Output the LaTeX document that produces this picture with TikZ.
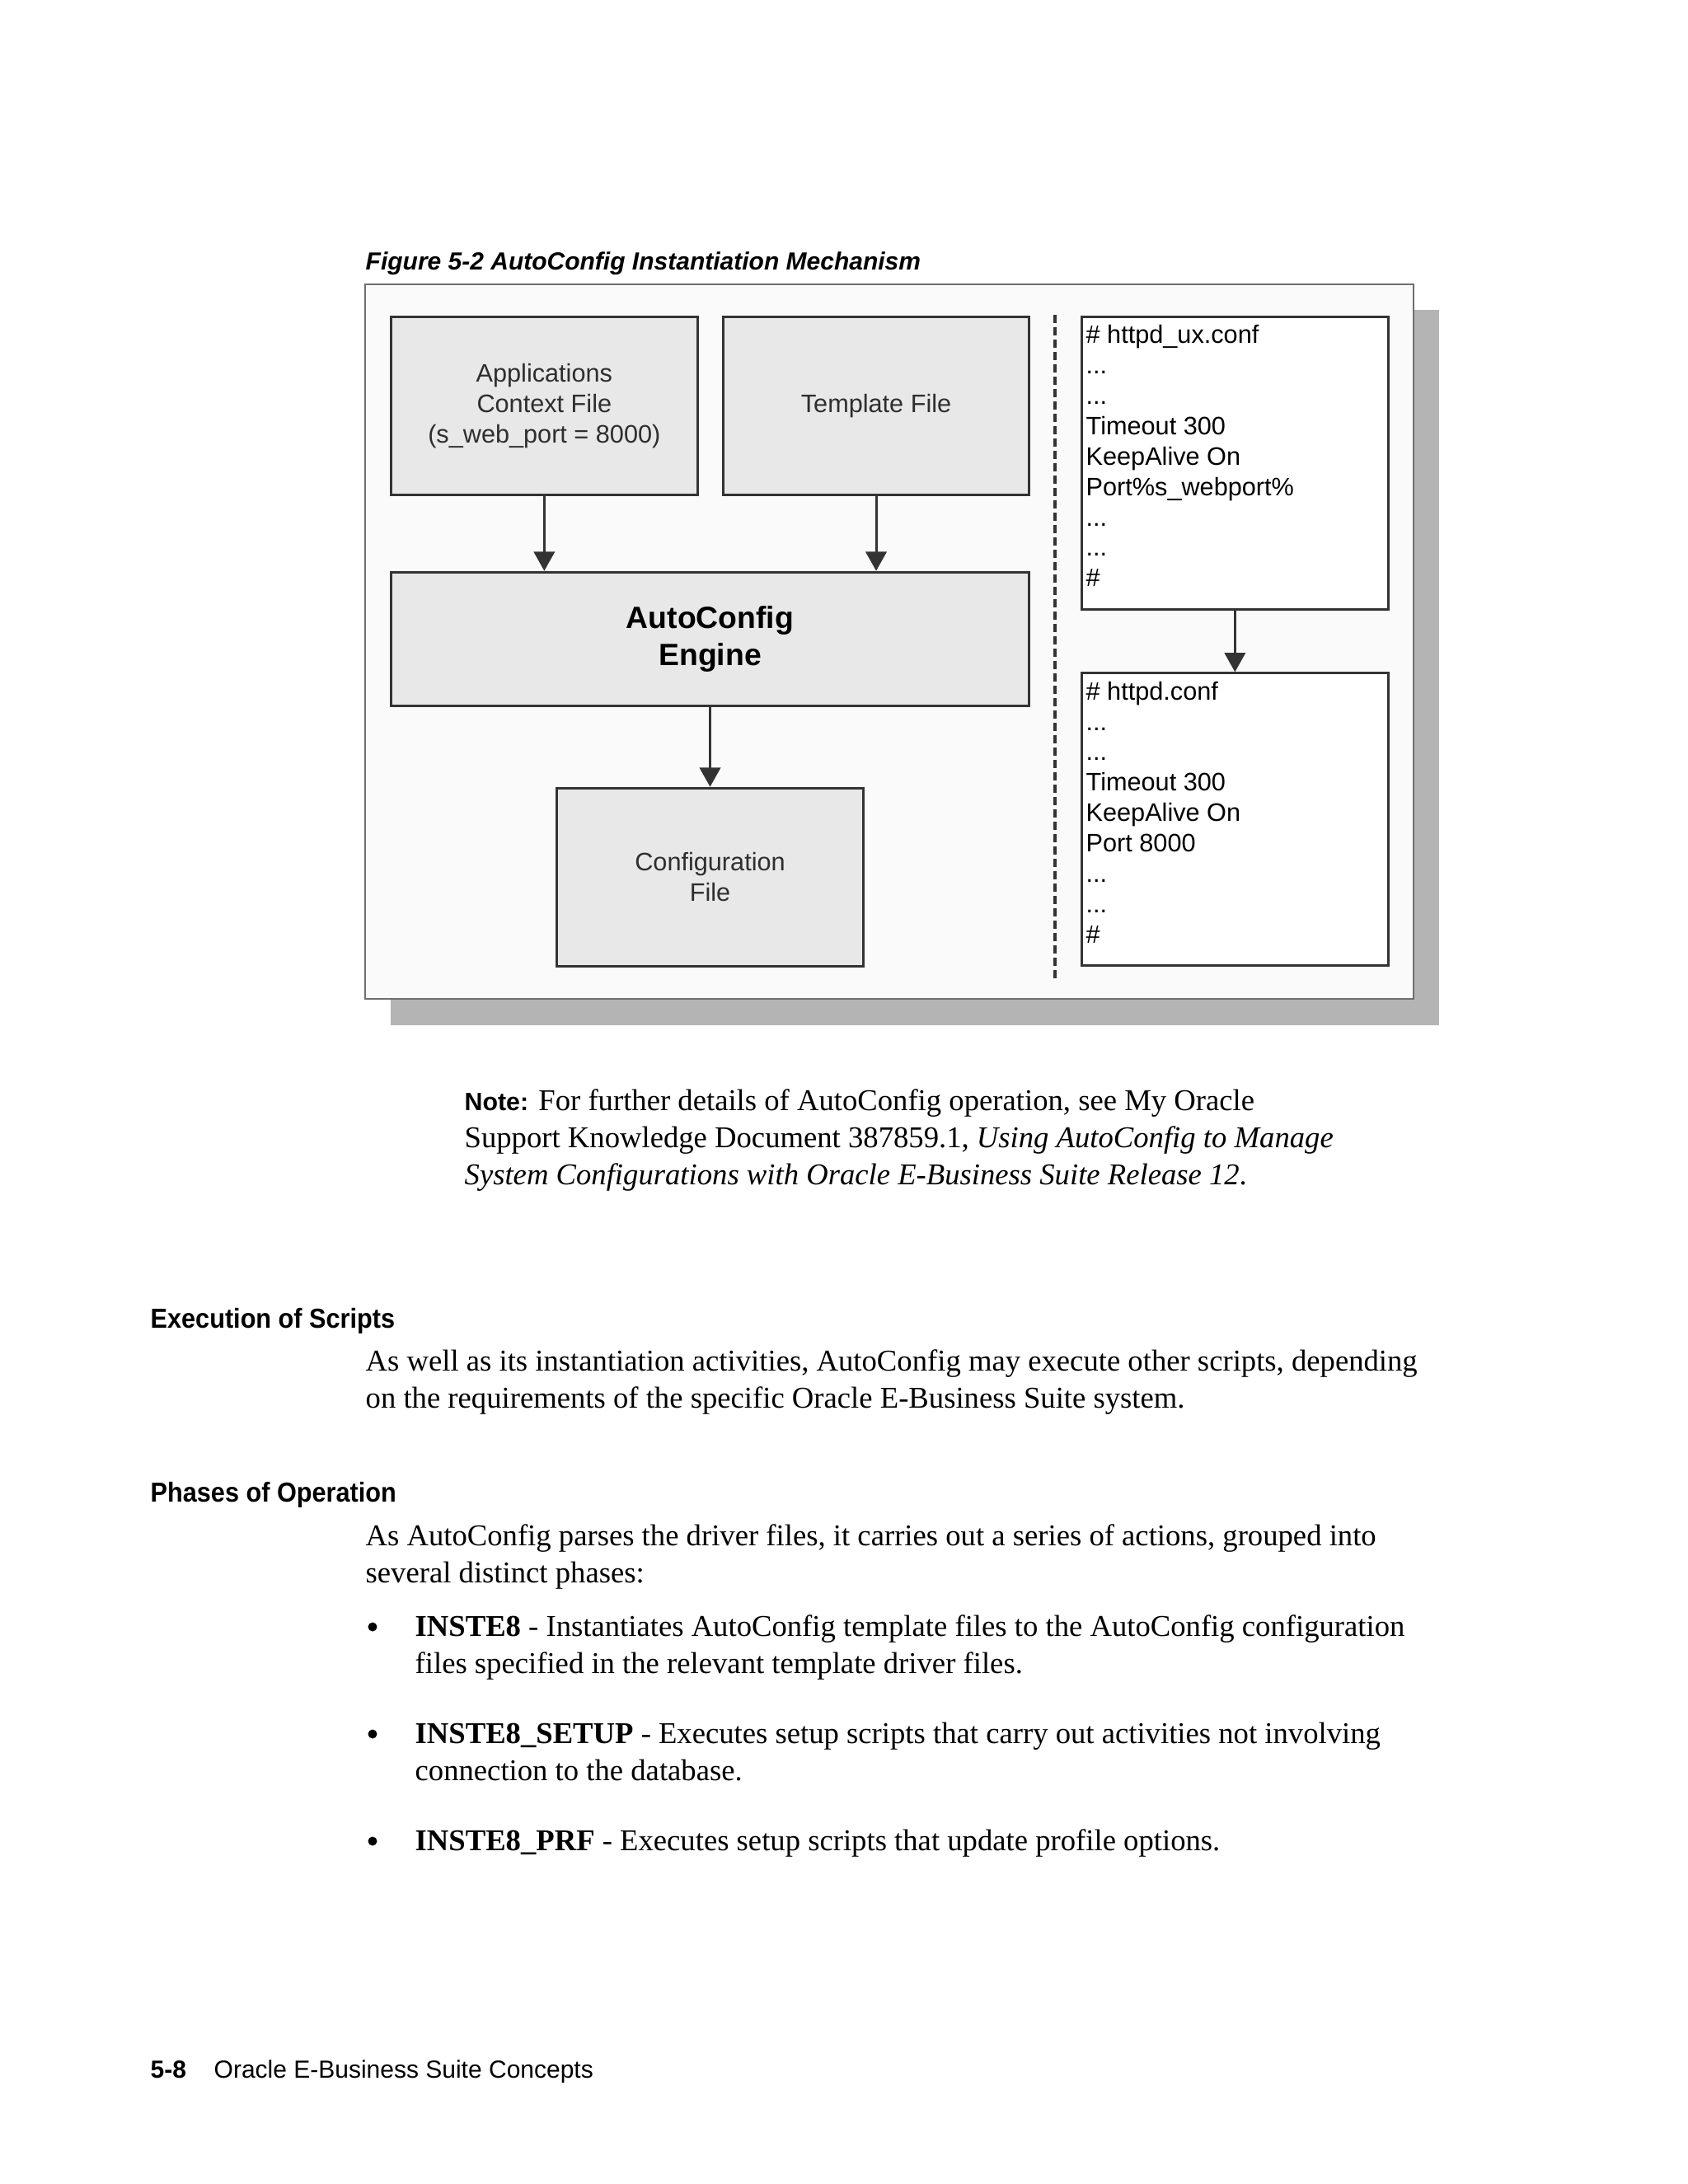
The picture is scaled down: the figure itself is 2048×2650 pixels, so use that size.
\documentclass[tikz,border=0pt]{standalone}
\usepackage{fontspec}
\setmainfont{Liberation Serif}
\setsansfont{Liberation Sans}
\newfontfamily\headfont[FakeStretch=0.92]{Liberation Sans}
\usetikzlibrary{arrows.meta,positioning}

\definecolor{framefill}{HTML}{FAFAFA}
\definecolor{framedraw}{HTML}{6E6E6E}
\definecolor{shadowgray}{HTML}{B4B4B4}
\definecolor{boxfill}{HTML}{E8E8E8}
\definecolor{boxdraw}{HTML}{333333}
\definecolor{labelgray}{HTML}{2E2E2E}

\newcommand{\notehead}[1]{{\sffamily\bfseries\fontsize{9.1pt}{11pt}\selectfont #1}}

\begin{document}
\begin{tikzpicture}[x=0.010542cm, y=-0.010542cm,
    filebox/.style={draw=boxdraw, fill=boxfill, line width=0.9pt, minimum width=111.5pt, minimum height=64.8pt, align=center, inner sep=0pt, anchor=north west, text=labelgray, font=\sffamily\fontsize{9.2pt}{11.06pt}\selectfont},
    confbox/.style={draw=boxdraw, fill=white, line width=0.9pt, minimum width=111.5pt, minimum height=106.4pt, anchor=north west},
    conftext/.style={align=left, inner sep=0pt, anchor=north west, font=\sffamily\fontsize{9.2pt}{11.06pt}\selectfont},
    flow/.style={-{Triangle[width=7.6pt,length=7pt]}, draw=boxdraw, line width=0.9pt},
    sepline/.style={draw=boxdraw, line width=1.4pt, dash pattern=on 3pt off 1.5pt},
    body/.style={anchor=base west, inner sep=0pt, font=\fontsize{11pt}{13.4pt}\selectfont},
    bulletdot/.style={circle, fill=black, inner sep=0pt, minimum size=3.3pt},
    heading/.style={anchor=base west, inner sep=0pt, font=\headfont\bfseries\fontsize{10pt}{12pt}\selectfont},
    footer/.style={anchor=base west, inner sep=0pt, font=\sffamily\fontsize{9pt}{11pt}\selectfont}
]
    \useasboundingbox (0,0) rectangle (2048,2650);
    \fill[white] (0,0) rectangle (2048,2650);

    % Figure caption and frame
    \node[anchor=base west, inner sep=0pt, font=\sffamily\bfseries\itshape\fontsize{9pt}{11pt}\selectfont] (caption) at (443,327) {Figure 5-2 AutoConfig Instantiation Mechanism};
    \fill[shadowgray] (474,376) rectangle (1746,1244);
    \draw[framedraw, fill=framefill, line width=0.6pt] (443,345) rectangle (1715,1212);

    % Left side
    \node[filebox] (appctx) at (473,383) {Applications\\Context File\\(s\_web\_port = 8000)};
    \node[filebox, right=8.4pt of appctx.north east, anchor=north west] (template) {Template File};
    \node[filebox, minimum width=232.2pt, minimum height=48.7pt, below=27.2pt of appctx.south west, anchor=north west, text=black, font=\sffamily\bfseries\fontsize{11.2pt}{13.4pt}\selectfont] (engine) {AutoConfig\\Engine};
    \node[filebox, below=29pt of engine] (conffile) {Configuration\\File};

    % Separator
    \coordinate (septop) at (1280,382);
    \coordinate (sepbot) at (1280,1191);
    \draw[sepline] (septop) -- (sepbot);

    % Right side
    \node[confbox] (uxconf) at (1311,383) {};
    \node[confbox, below=22.4pt of uxconf] (httpdconf) {};
    \node[conftext] (uxtext) at ([shift={(6,11)}]uxconf.north west) {\# httpd\_ux.conf\\...\\...\\Timeout 300\\KeepAlive On\\Port\%s\_webport\%\\...\\...\\\#};
    \node[conftext] (httpdtext) at ([shift={(6,11)}]httpdconf.north west) {\# httpd.conf\\...\\...\\Timeout 300\\KeepAlive On\\Port 8000\\...\\...\\\#};

    % Edges
    \draw[flow] (appctx.south) -- (appctx.south |- engine.north);
    \draw[flow] (template.south) -- (template.south |- engine.north);
    \draw[flow] (engine.south) -- (conffile.north);
    \draw[flow] (uxconf.south) -- (httpdconf.north);

    % Page text
    \node[body] (note1) at (563,1347) {\notehead{Note:} For further details of AutoConfig operation, see My Oracle};
    \node[body] (note2) at (563,1392) {Support Knowledge Document 387859.1, \textit{Using AutoConfig to Manage}};
    \node[body] (note3) at (563,1437) {\textit{System Configurations with Oracle E-Business Suite Release 12}.};

    \node[heading] (exechead) at (182,1611) {Execution of Scripts};
    \node[body] (exec1) at (443,1663) {As well as its instantiation activities, AutoConfig may execute other scripts, depending};
    \node[body] (exec2) at (443,1708) {on the requirements of the specific Oracle E-Business Suite system.};

    \node[heading] (phasehead) at (182,1822) {Phases of Operation};
    \node[body] (phase1) at (443,1875) {As AutoConfig parses the driver files, it carries out a series of actions, grouped into};
    \node[body] (phase2) at (443,1920) {several distinct phases:};

    \node[bulletdot] (dot1) at (452,1974) {};
    \node[body] (inst1) at (503,1985) {\textbf{INSTE8} - Instantiates AutoConfig template files to the AutoConfig configuration};
    \node[body] (inst2) at (503,2030) {files specified in the relevant template driver files.};
    \node[bulletdot] (dot2) at (452,2104) {};
    \node[body] (setup1) at (503,2115) {\textbf{INSTE8\_SETUP} - Executes setup scripts that carry out activities not involving};
    \node[body] (setup2) at (503,2160) {connection to the database.};
    \node[bulletdot] (dot3) at (452,2234) {};
    \node[body] (prf1) at (503,2245) {\textbf{INSTE8\_PRF} - Executes setup scripts that update profile options.};

    % Footer
    \node[footer, font=\sffamily\bfseries\fontsize{9pt}{11pt}\selectfont] (pageno) at (182,2521) {5-8};
    \node[footer] (booktitle) at (259,2521) {Oracle E-Business Suite Concepts};
\end{tikzpicture}
\end{document}
